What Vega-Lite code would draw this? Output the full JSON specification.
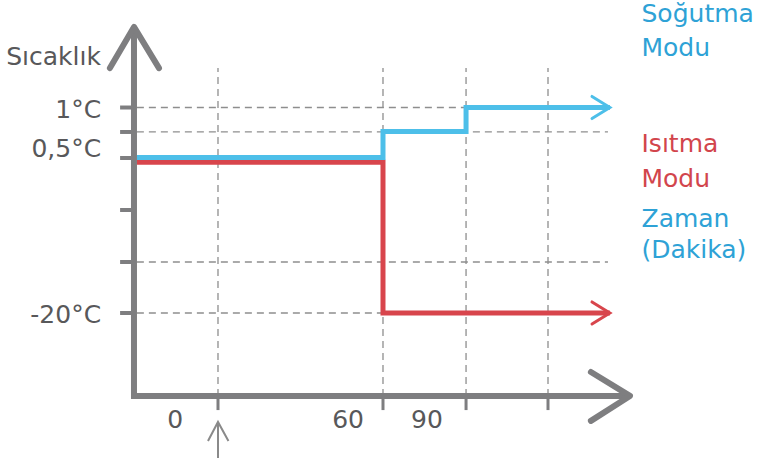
{
  "$schema": "https://vega.github.io/schema/vega-lite/v6.json",
  "width": 760,
  "height": 458,
  "autosize": {"type": "none"},
  "padding": 0,
  "background": "white",
  "config": {"view": {"stroke": null}},
  "datasets": {
    "grid": [
      {"minute": -29.5, "minute2": 90.2, "level": 7.98, "level2": 7.98},
      {"minute": -29.5, "minute2": 141.8, "level": 7.03, "level2": 7.03},
      {"minute": -29.5, "minute2": 141.8, "level": 1.98, "level2": 1.98},
      {"minute": -29.5, "minute2": 60, "level": 0, "level2": 0},
      {"minute": 0, "minute2": 0, "level": -3.22, "level2": 9.51},
      {"minute": 60, "minute2": 60, "level": -3.22, "level2": 9.51},
      {"minute": 90.2, "minute2": 90.2, "level": -3.22, "level2": 9.51},
      {"minute": 120, "minute2": 120, "level": -3.22, "level2": 9.51}
    ],
    "ticks": [
      {"dir": "y", "minute": -35.6, "minute2": -30.5, "level": 7.98, "level2": 7.98},
      {"dir": "y", "minute": -35.6, "minute2": -30.5, "level": 7.03, "level2": 7.03},
      {"dir": "y", "minute": -35.6, "minute2": -30.5, "level": 6.02, "level2": 6.02},
      {"dir": "y", "minute": -35.6, "minute2": -30.5, "level": 4.0, "level2": 4.0},
      {"dir": "y", "minute": -35.6, "minute2": -30.5, "level": 1.98, "level2": 1.98},
      {"dir": "y", "minute": -35.6, "minute2": -30.5, "level": 0, "level2": 0},
      {"dir": "x", "minute": 0, "minute2": 0, "level": -3.22, "level2": -3.77},
      {"dir": "x", "minute": 60, "minute2": 60, "level": -3.22, "level2": -3.77},
      {"dir": "x", "minute": 90.2, "minute2": 90.2, "level": -3.22, "level2": -3.77},
      {"dir": "x", "minute": 120, "minute2": 120, "level": -3.22, "level2": -3.77}
    ],
    "axes": [
      {"part": "frame", "order": 1, "minute": -30.55, "level": 11.0},
      {"part": "frame", "order": 2, "minute": -30.55, "level": -3.22},
      {"part": "frame", "order": 3, "minute": 149.0, "level": -3.22},
      {"part": "yarrow", "order": 1, "minute": -39.3, "level": 9.51},
      {"part": "yarrow", "order": 2, "minute": -30.55, "level": 11.11},
      {"part": "yarrow", "order": 3, "minute": -21.45, "level": 9.51},
      {"part": "xarrow", "order": 1, "minute": 135.6, "level": -2.29},
      {"part": "xarrow", "order": 2, "minute": 149.8, "level": -3.22},
      {"part": "xarrow", "order": 3, "minute": 135.6, "level": -4.19}
    ],
    "marker": [
      {"part": "shaft", "order": 1, "minute": 0, "level": -4.25},
      {"part": "shaft", "order": 2, "minute": 0, "level": -5.7},
      {"part": "head", "order": 1, "minute": -3.64, "level": -4.97},
      {"part": "head", "order": 2, "minute": 0, "level": -4.23},
      {"part": "head", "order": 3, "minute": 3.8, "level": -4.97}
    ],
    "series": [
      {"mode": "Isıtma", "part": "line", "order": 1, "minute": -29.45, "level": 5.85},
      {"mode": "Isıtma", "part": "line", "order": 2, "minute": 60, "level": 5.85},
      {"mode": "Isıtma", "part": "line", "order": 3, "minute": 60, "level": 0},
      {"mode": "Isıtma", "part": "line", "order": 4, "minute": 142.5, "level": 0},
      {"mode": "Soğutma", "part": "line", "order": 1, "minute": -29.45, "level": 6.04},
      {"mode": "Soğutma", "part": "line", "order": 2, "minute": 60, "level": 6.04},
      {"mode": "Soğutma", "part": "line", "order": 3, "minute": 60, "level": 7.05},
      {"mode": "Soğutma", "part": "line", "order": 4, "minute": 90.2, "level": 7.05},
      {"mode": "Soğutma", "part": "line", "order": 5, "minute": 90.2, "level": 7.98},
      {"mode": "Soğutma", "part": "line", "order": 6, "minute": 142.5, "level": 7.98},
      {"mode": "Isıtma", "part": "arrow", "order": 1, "minute": 136, "level": 0.43},
      {"mode": "Isıtma", "part": "arrow", "order": 2, "minute": 142.5, "level": 0},
      {"mode": "Isıtma", "part": "arrow", "order": 3, "minute": 136, "level": -0.43},
      {"mode": "Soğutma", "part": "arrow", "order": 1, "minute": 136, "level": 8.41},
      {"mode": "Soğutma", "part": "arrow", "order": 2, "minute": 142.5, "level": 7.98},
      {"mode": "Soğutma", "part": "arrow", "order": 3, "minute": 136, "level": 7.55}
    ],
    "labels": [
      {"grp": "title", "text": "Sıcaklık", "minute": -77.0, "level": 9.94},
      {"grp": "ylab", "text": "1°C", "minute": -42.5, "level": 7.9},
      {"grp": "ylab", "text": "0,5°C", "minute": -42.5, "level": 6.35},
      {"grp": "ylab", "text": "-20°C", "minute": -42.5, "level": -0.06},
      {"grp": "xlab", "text": "0", "minute": -15.6, "level": -4.14},
      {"grp": "xlab", "text": "60", "minute": 47.3, "level": -4.14},
      {"grp": "xlab", "text": "90", "minute": 76, "level": -4.14},
      {"grp": "blue", "text": "Soğutma", "minute": 154.0, "level": 11.61},
      {"grp": "blue", "text": "Modu", "minute": 154.0, "level": 10.31},
      {"grp": "blue", "text": "Zaman", "minute": 154.0, "level": 3.65},
      {"grp": "blue", "text": "(Dakika)", "minute": 154.0, "level": 2.45},
      {"grp": "red", "text": "Isıtma", "minute": 154.0, "level": 6.56},
      {"grp": "red", "text": "Modu", "minute": 154.0, "level": 5.22}
    ]
  },
  "encoding": {
    "x": {"field": "minute", "type": "quantitative", "scale": {"domain": [-79.27, 197.09], "nice": false, "zero": false}, "axis": null},
    "y": {"field": "level", "type": "quantitative", "scale": {"domain": [-5.631, 12.155], "nice": false, "zero": false}, "axis": null}
  },
  "layer": [
    {
      "data": {"name": "grid"},
      "mark": {"type": "rule", "color": "#8e8e8e", "strokeWidth": 1.3, "strokeDash": [7, 5]},
      "encoding": {"x2": {"field": "minute2"}, "y2": {"field": "level2"}}
    },
    {
      "data": {"name": "ticks"},
      "transform": [{"filter": "datum.dir === 'y'"}],
      "mark": {"type": "rule", "color": "#7e7e80", "strokeWidth": 4},
      "encoding": {"x2": {"field": "minute2"}, "y2": {"field": "level2"}}
    },
    {
      "data": {"name": "ticks"},
      "transform": [{"filter": "datum.dir === 'x'"}],
      "mark": {"type": "rule", "color": "#7e7e80", "strokeWidth": 3},
      "encoding": {"x2": {"field": "minute2"}, "y2": {"field": "level2"}}
    },
    {
      "data": {"name": "axes"},
      "transform": [{"filter": "datum.part === 'frame'"}],
      "mark": {"type": "line", "color": "#7e7e80", "strokeWidth": 6, "strokeCap": "square", "strokeJoin": "miter"},
      "encoding": {"order": {"field": "order", "type": "quantitative"}}
    },
    {
      "data": {"name": "axes"},
      "transform": [{"filter": "datum.part !== 'frame'"}],
      "mark": {"type": "line", "color": "#7e7e80", "strokeWidth": 6, "strokeCap": "round", "strokeJoin": "round"},
      "encoding": {"detail": {"field": "part"}, "order": {"field": "order", "type": "quantitative"}}
    },
    {
      "data": {"name": "marker"},
      "mark": {"type": "line", "color": "#8a8a8a", "strokeWidth": 2},
      "encoding": {"detail": {"field": "part"}, "order": {"field": "order", "type": "quantitative"}}
    },
    {
      "data": {"name": "series"},
      "transform": [{"filter": "datum.part === 'line'"}],
      "mark": {"type": "line", "strokeWidth": 5, "strokeJoin": "miter", "strokeCap": "butt"},
      "encoding": {
        "color": {"field": "mode", "type": "nominal", "scale": {"domain": ["Soğutma", "Isıtma"], "range": ["#4dbfe9", "#d8454c"]}, "legend": null},
        "order": {"field": "order", "type": "quantitative"}
      }
    },
    {
      "data": {"name": "series"},
      "transform": [{"filter": "datum.part === 'arrow'"}],
      "mark": {"type": "line", "strokeWidth": 3, "strokeCap": "round"},
      "encoding": {
        "color": {"field": "mode", "type": "nominal", "scale": {"domain": ["Soğutma", "Isıtma"], "range": ["#4dbfe9", "#d8454c"]}, "legend": null},
        "order": {"field": "order", "type": "quantitative"}
      }
    },
    {
      "data": {"name": "labels"},
      "transform": [{"filter": "datum.grp === 'title'"}],
      "mark": {"type": "text", "align": "left", "baseline": "middle", "font": "DejaVu Sans", "fontSize": 25, "color": "#58585a"},
      "encoding": {"text": {"field": "text"}}
    },
    {
      "data": {"name": "labels"},
      "transform": [{"filter": "datum.grp === 'ylab'"}],
      "mark": {"type": "text", "align": "right", "baseline": "middle", "font": "DejaVu Sans", "fontSize": 25, "color": "#58585a"},
      "encoding": {"text": {"field": "text"}}
    },
    {
      "data": {"name": "labels"},
      "transform": [{"filter": "datum.grp === 'xlab'"}],
      "mark": {"type": "text", "align": "center", "baseline": "middle", "font": "DejaVu Sans", "fontSize": 25, "color": "#58585a"},
      "encoding": {"text": {"field": "text"}}
    },
    {
      "data": {"name": "labels"},
      "transform": [{"filter": "datum.grp === 'blue'"}],
      "mark": {"type": "text", "align": "left", "baseline": "middle", "font": "DejaVu Sans", "fontSize": 25, "color": "#2ea2d6"},
      "encoding": {"text": {"field": "text"}}
    },
    {
      "data": {"name": "labels"},
      "transform": [{"filter": "datum.grp === 'red'"}],
      "mark": {"type": "text", "align": "left", "baseline": "middle", "font": "DejaVu Sans", "fontSize": 25, "color": "#d2454c"},
      "encoding": {"text": {"field": "text"}}
    }
  ]
}
